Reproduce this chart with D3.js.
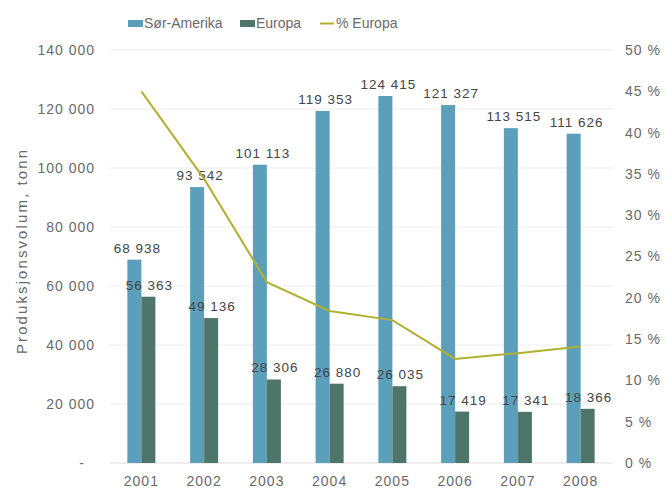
<!DOCTYPE html>
<html>
<head>
<meta charset="utf-8">
<script src="https://cdn.jsdelivr.net/npm/d3@7"></script>
<style>
  body { margin: 0; background: #fff; }
  svg { display: block; font-family: "Liberation Sans", Arial, sans-serif; }
</style>
</head>
<body>
<svg id="chart" width="667" height="494"></svg>
<script>
// Production volume (tonnes) by region, and Europe's share of the total
const years = ["2001", "2002", "2003", "2004", "2005", "2006", "2007", "2008"];
const sorAmerika = [68938, 93542, 101113, 119353, 124415, 121327, 113515, 111626];
const europa = [56363, 49136, 28306, 26880, 26035, 17419, 17341, 18366];
const prosentEuropa = [0.450, 0.344, 0.219, 0.184, 0.173, 0.126, 0.133, 0.141];
const leftTicks = [0, 20000, 40000, 60000, 80000, 100000, 120000, 140000];
const rightTicks = [0, 0.05, 0.10, 0.15, 0.20, 0.25, 0.30, 0.35, 0.40, 0.45, 0.50];

const colBlue = "#5b9fba";
const colDark = "#4e7569";
const colLine = "#b2b030";
const textGray = "#6a6a6a";
const labelGray = "#454545";
const FONT = "Liberation Sans, Arial, sans-serif";

const svg = d3.select("#chart");
const plot = { left: 110, right: 612, top: 50, bottom: 463 };

const x = d3.scaleBand().domain(years).range([plot.left, plot.right]).paddingInner(0).paddingOuter(0);
const inner = d3.scaleBand().domain(["sa", "eu"]).range([0, 28]);
const bandOffset = (x.bandwidth() - 28) / 2;
const yL = d3.scaleLinear().domain([0, 140000]).range([plot.bottom, plot.top]);
const yR = d3.scaleLinear().domain([0, 0.5]).range([plot.bottom, plot.top]);

const fmtNum = v => v === 0 ? "-" : d3.format(",")(v).replace(/,/g, " ");
const fmtPct = v => Math.round(v * 100) + " %";

function styleText(sel, size, color) {
  sel.attr("fill", color).attr("font-size", size).attr("font-family", FONT).attr("letter-spacing", "1px");
}

// Gridlines
svg.append("g")
  .selectAll("line")
  .data(leftTicks)
  .join("line")
  .attr("x1", plot.left).attr("x2", plot.right)
  .attr("y1", d => yL(d)).attr("y2", d => yL(d))
  .attr("stroke", d => d === 0 ? "#dcdcdc" : "#ececec")
  .attr("stroke-width", 1);

// Left axis
const leftAxis = svg.append("g")
  .attr("transform", `translate(95,0)`)
  .call(d3.axisLeft(yL).tickValues(leftTicks).tickFormat(fmtNum).tickSize(0).tickPadding(0));
leftAxis.select(".domain").remove();
leftAxis.selectAll("text").call(styleText, 14, textGray)
  .attr("dx", d => d === 0 ? -10 : 0);

// Right axis
const rightAxis = svg.append("g")
  .attr("transform", `translate(625,0)`)
  .call(d3.axisRight(yR).tickValues(rightTicks).tickFormat(fmtPct).tickSize(0).tickPadding(0));
rightAxis.select(".domain").remove();
rightAxis.selectAll("text").call(styleText, 14, textGray);

// Bottom axis
const bottomAxis = svg.append("g")
  .attr("transform", `translate(0,${plot.bottom + 13})`)
  .call(d3.axisBottom(x).tickSize(0).tickPadding(0));
bottomAxis.select(".domain").remove();
bottomAxis.selectAll("text").call(styleText, 14, textGray).attr("dy", "0.71em");

// Y axis title
svg.append("text")
  .attr("transform", `translate(27,252) rotate(-90)`)
  .attr("text-anchor", "middle")
  .attr("fill", textGray)
  .attr("font-size", 15)
  .attr("textLength", 204)
  .attr("lengthAdjust", "spacing")
  .text("Produksjonsvolum, tonn");

// Bars
const rows = years.map((yr, i) => ({ yr, sa: sorAmerika[i], eu: europa[i], pct: prosentEuropa[i] }));

const groups = svg.append("g").selectAll("g")
  .data(rows)
  .join("g")
  .attr("transform", d => `translate(${x(d.yr) + bandOffset},0)`);

groups.append("rect")
  .attr("x", inner("sa")).attr("width", inner.bandwidth())
  .attr("y", d => yL(d.sa)).attr("height", d => yL(0) - yL(d.sa))
  .attr("fill", colBlue);

groups.append("rect")
  .attr("x", inner("eu")).attr("width", inner.bandwidth())
  .attr("y", d => yL(d.eu)).attr("height", d => yL(0) - yL(d.eu))
  .attr("fill", colDark);

// Share line
const line = d3.line()
  .x(d => x(d.yr) + x.bandwidth() / 2)
  .y(d => yR(d.pct));

svg.append("path")
  .datum(rows)
  .attr("d", line)
  .attr("fill", "none")
  .attr("stroke", colLine)
  .attr("stroke-width", 2);

// Value labels
groups.append("text")
  .attr("x", inner("sa") + inner.bandwidth() / 2 + 3)
  .attr("y", d => yL(d.sa) - 7)
  .attr("text-anchor", "middle")
  .call(styleText, 13.5, labelGray)
  .text(d => fmtNum(d.sa));

groups.append("text")
  .attr("x", inner("eu") + inner.bandwidth() / 2 + 1)
  .attr("y", d => yL(d.eu) - 7)
  .attr("text-anchor", "middle")
  .call(styleText, 13.5, labelGray)
  .text(d => fmtNum(d.eu));

// Legend
const legend = svg.append("g");
const items = [
  { name: "Sør-Amerika", type: "rect", color: colBlue, x: 128 },
  { name: "Europa", type: "rect", color: colDark, x: 240 },
  { name: "% Europa", type: "line", color: colLine, x: 320 }
];
items.forEach(it => {
  const g = legend.append("g").attr("transform", `translate(${it.x},0)`);
  if (it.type === "rect") {
    g.append("rect").attr("x", 0).attr("y", 20).attr("width", 15).attr("height", 7).attr("fill", it.color);
  } else {
    g.append("line").attr("x1", 0).attr("x2", 14).attr("y1", 23.5).attr("y2", 23.5).attr("stroke", it.color).attr("stroke-width", 2);
  }
  g.append("text").attr("x", 16).attr("y", 23.5).attr("dy", "0.35em")
    .attr("fill", textGray).attr("font-size", 14).attr("font-family", FONT).text(it.name);
});
</script>
</body>
</html>
